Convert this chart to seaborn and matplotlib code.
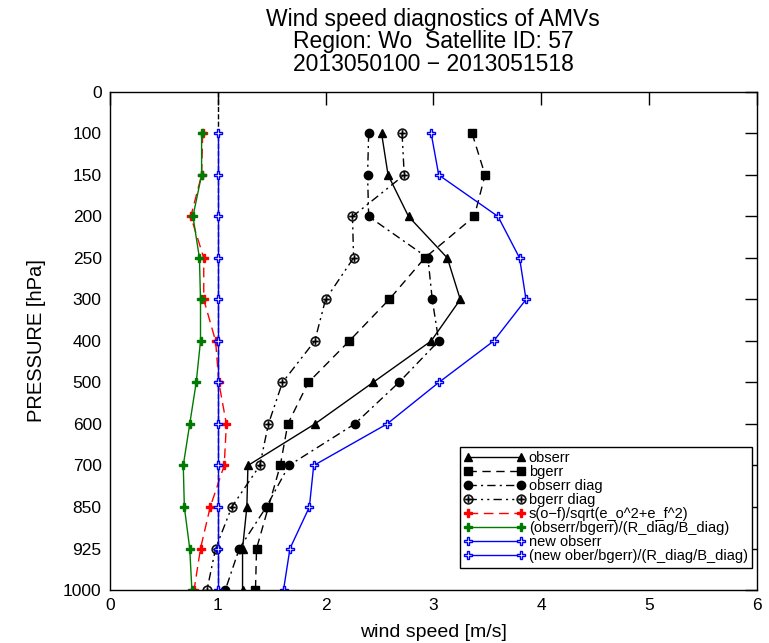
"""
Wind speed diagnostics of AMVs: error profiles against pressure level.
Saves out.png.
"""

import matplotlib
matplotlib.use("Agg")
import matplotlib.pyplot as plt
import numpy as np
import pandas as pd
import seaborn as sns

# pressure levels (evenly spaced on the plot, 0 at the top)
LEVEL_TICKS = ["0", "100", "150", "200", "250", "300", "400", "500",
               "600", "700", "850", "925", "1000"]
LEVELS = LEVEL_TICKS[1:]

# wind speed values per level, 100 -> 1000 hPa
obserr = [2.52, 2.58, 2.77, 3.13, 3.25, 2.98, 2.44, 1.90, 1.28, 1.27, 1.23, 1.23]
bgerr = [3.36, 3.48, 3.38, 2.92, 2.59, 2.22, 1.84, 1.65, 1.58, 1.47, 1.36, 1.35]
obserr_diag = [2.40, 2.39, 2.40, 2.95, 2.99, 3.05, 2.68, 2.27, 1.66, 1.45, 1.20, 1.07]
bgerr_diag = [2.71, 2.73, 2.25, 2.26, 2.00, 1.90, 1.60, 1.47, 1.39, 1.13, 0.98, 0.90]
sig_ratio = [0.86, 0.85, 0.75, 0.87, 0.87, 0.98, 1.01, 1.08, 1.06, 0.93, 0.84, 0.78]
err_ratio = [0.85, 0.85, 0.77, 0.83, 0.84, 0.84, 0.80, 0.74, 0.68, 0.69, 0.74, 0.76]
new_obserr = [2.98, 3.05, 3.60, 3.80, 3.86, 3.56, 3.05, 2.57, 1.89, 1.85, 1.67, 1.61]
new_ratio = [1.0] * 12

SERIES = [
    # label, values, color, linestyle, marker, marker face
    ("obserr", obserr, "black", "-", "^", "black"),
    ("bgerr", bgerr, "black", (0, (6, 4)), "s", "black"),
    ("obserr diag", obserr_diag, "black", (0, (6, 3, 1.5, 3)), "o", "black"),
    ("bgerr diag", bgerr_diag, "black", (0, (6, 3, 1.5, 3, 1.5, 3)), r"$\oplus$", "black"),
    ("s(o\u2212f)/sqrt(e_o^2+e_f^2)", sig_ratio, "red", (0, (7, 4)), "P", "red"),
    ("(obserr/bgerr)/(R_diag/B_diag)", err_ratio, "#007a00", "-", "P", "#007a00"),
    ("new obserr", new_obserr, "blue", "-", "P", "white"),
    ("(new ober/bgerr)/(R_diag/B_diag)", new_ratio, "blue", "-", "P", "white"),
]


def main():
    sns.set_style("white")
    plt.rcParams["font.family"] = ["Liberation Sans", "DejaVu Sans"]
    plt.rcParams["text.color"] = "black"
    plt.rcParams["axes.labelcolor"] = "black"
    plt.rcParams["xtick.color"] = "black"
    plt.rcParams["ytick.color"] = "black"

    fig = plt.figure(figsize=(7.69, 6.43), dpi=100)
    ax = fig.add_axes([0.143, 0.0824, 0.841, 0.7746])

    ypos = np.arange(1, len(LEVELS) + 1)

    # reference line at 1
    ax.axvline(1, color="black", ls="--", lw=1, zorder=1)

    for label, vals, color, ls, marker, face in SERIES:
        df = pd.DataFrame({"speed": vals, "level": ypos})
        ms = 7 if marker.startswith("$") else 6
        sns.lineplot(data=df, x="speed", y="level", sort=False, estimator=None,
                     ax=ax, color=color, linestyle=ls, lw=1, marker=marker,
                     markersize=ms, markerfacecolor=face, markeredgecolor=color,
                     markeredgewidth=1 if not marker.startswith("$") else 0.3,
                     label=label)

    ax.set_xlim(0, 6)
    ax.set_ylim(12, 0)
    ax.set_xticks(range(7))
    ax.set_yticks(range(len(LEVEL_TICKS)))
    ax.set_yticklabels(LEVEL_TICKS)
    ax.tick_params(direction="in", top=True, right=True, length=9, width=1,
                   labelsize=12.5, color="black", labelcolor="black", pad=6)
    for sp in ax.spines.values():
        sp.set_color("black")
        sp.set_linewidth(1)

    ax.set_xlabel("wind speed [m/s]", fontsize=14, labelpad=8, color="black")
    ax.set_ylabel("PRESSURE [hPa]", fontsize=14.5, labelpad=12, color="black")
    ax.set_title("Wind speed diagnostics of AMVs\nRegion: Wo  Satellite ID: 57\n"
                 "2013050100 \u2212 2013051518", fontsize=16.5, linespacing=0.98,
                 pad=15, color="black")

    leg = ax.legend(loc="lower right", bbox_to_anchor=(0.993, 0.045), numpoints=2,
                    handlelength=4.2, handletextpad=0.25, labelspacing=0.0,
                    fontsize=10.5, frameon=True, fancybox=False, borderpad=0.3,
                    borderaxespad=0, labelcolor="black")
    leg.get_frame().set_edgecolor("black")
    leg.get_frame().set_linewidth(1)
    leg.get_frame().set_alpha(1)

    fig.savefig("out.png", dpi=100)
    plt.close(fig)


if __name__ == "__main__":
    main()
